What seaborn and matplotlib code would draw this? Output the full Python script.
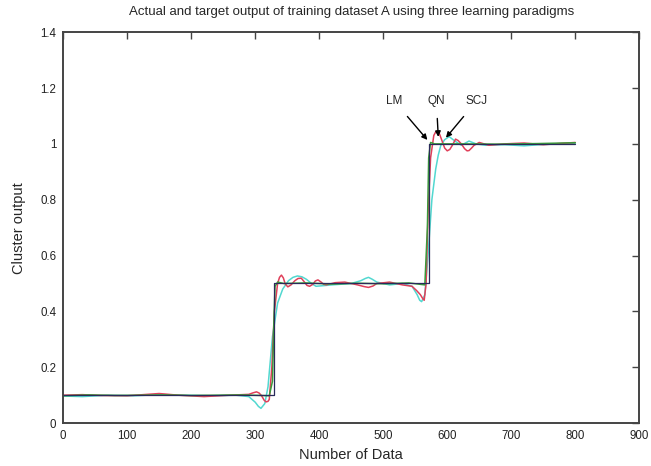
import matplotlib
matplotlib.use("Agg")
import matplotlib.pyplot as plt
import seaborn as sns
import pandas as pd

# ---- data ----
target_x = [0, 330, 330, 572, 572, 800]
target_y = [0.1, 0.1, 0.5, 0.5, 1.0, 1.0]

lm_x = [0, 40, 80, 120, 160, 200, 240, 280, 310, 322, 327, 329, 331, 335, 345, 380, 420, 460, 500,
        540, 565, 569, 571, 574, 580, 620, 680, 740, 800]
lm_y = [0.098, 0.101, 0.099, 0.100, 0.101, 0.099, 0.100, 0.101, 0.099, 0.098, 0.15, 0.35, 0.49, 0.505,
        0.50, 0.502, 0.498, 0.501, 0.499, 0.502, 0.495, 0.70, 0.95, 1.005, 1.0, 1.0, 0.999, 1.001, 1.004]

qn_x = [0, 30, 60, 100, 150, 180, 220, 260, 290, 296, 302, 306, 310, 314, 317, 320, 322, 326, 330, 335,
        338, 341, 344, 347, 351, 356, 362, 367, 372, 377, 381, 385, 390, 394, 398, 403, 407, 411, 418,
        425, 440, 460, 470, 477, 484, 490, 510, 530, 545, 552, 558, 562, 564, 567, 570, 574, 579, 582,
        585, 588, 592, 596, 600, 604, 608, 613, 617, 622, 627, 631, 634, 638, 642, 650, 665, 690, 720,
        750, 780, 800]
qn_y = [0.100, 0.102, 0.099, 0.098, 0.106, 0.100, 0.095, 0.100, 0.103, 0.108, 0.112, 0.108, 0.098,
        0.082, 0.076, 0.078, 0.085, 0.20, 0.40, 0.50, 0.522, 0.53, 0.52, 0.498, 0.488, 0.495, 0.510,
        0.518, 0.519, 0.505, 0.493, 0.49, 0.497, 0.509, 0.513, 0.505, 0.497, 0.495, 0.499, 0.503, 0.505,
        0.495, 0.489, 0.486, 0.491, 0.50, 0.505, 0.495, 0.49, 0.475, 0.46, 0.445, 0.44, 0.50, 0.75,
        0.95, 1.03, 1.043, 1.047, 1.035, 1.01, 0.985, 0.975, 0.98, 0.995, 1.017, 1.012, 1.0, 0.983,
        0.975, 0.976, 0.985, 0.995, 1.005, 0.995, 1.0, 1.003, 0.997, 1.002, 1.005]

scj_x = [0, 30, 70, 110, 150, 190, 230, 270, 290, 300, 305, 309, 315, 320, 327, 335, 343, 352, 359, 366,
         373, 380, 388, 395, 420, 450, 465, 472, 477, 483, 490, 510, 530, 545, 553, 557, 560, 565, 570,
         576, 582, 586, 590, 596, 603, 612, 622, 634, 645, 660, 690, 720, 750, 780, 800]
scj_y = [0.097, 0.095, 0.100, 0.098, 0.102, 0.100, 0.098, 0.100, 0.095, 0.075, 0.06, 0.053, 0.07, 0.13,
         0.31, 0.43, 0.48, 0.51, 0.522, 0.527, 0.524, 0.515, 0.50, 0.49, 0.495, 0.50, 0.51, 0.518, 0.522,
         0.515, 0.505, 0.495, 0.50, 0.49, 0.46, 0.44, 0.435, 0.46, 0.60, 0.80, 0.91, 0.96, 0.995, 1.015,
         1.026, 1.01, 0.995, 1.01, 1.0, 0.995, 0.997, 0.993, 0.998, 1.0, 1.002]

x_ticks = [0, 100, 200, 300, 400, 500, 600, 700, 800, 900]
y_ticks = [0, 0.2, 0.4, 0.6, 0.8, 1.0, 1.2, 1.4]
y_tick_labels = ["0", "0.2", "0.4", "0.6", "0.8", "1", "1.2", "1.4"]

# ---- plot ----
sns.set_style("white")
plt.rcParams['font.family'] = ['Liberation Sans', 'DejaVu Sans']

fig = plt.figure(figsize=(6.51, 4.66), dpi=100)
ax = fig.add_axes([0.097, 0.092, 0.885, 0.839])

series = [
    (scj_x, scj_y, "#52d8d0", 1.1),
    (qn_x, qn_y, "#e0405a", 1.1),
    (lm_x, lm_y, "#3a9a3a", 1.1),
    (target_x, target_y, "#2a2a5a", 0.9),
]
for xs, ys, col, lw in series:
    df = pd.DataFrame({"x": xs, "y": ys})
    sns.lineplot(data=df, x="x", y="y", ax=ax, color=col, linewidth=lw,
                 estimator=None, sort=False)

ax.set_xlim(0, 900)
ax.set_ylim(0, 1.4)
ax.set_xticks(x_ticks)
ax.set_xticklabels([str(t) for t in x_ticks])
ax.set_yticks(y_ticks)
ax.set_yticklabels(y_tick_labels)
ax.tick_params(direction="in", length=5, width=1, color="#444444", top=True, right=True,
               labelsize=8.3, labelcolor="#222222", pad=5)
for s in ax.spines.values():
    s.set_color("#444444")
    s.set_linewidth(1.4)

ax.set_xlabel("Number of Data", fontsize=10.5, labelpad=4)
ax.set_ylabel("Cluster output", fontsize=10.5, labelpad=10)
ax.set_title("Actual and target output of training dataset A using three learning paradigms",
             fontsize=9.5, pad=12)

arrow = dict(arrowstyle="-|>", color="black", lw=1, mutation_scale=8)
ax.annotate("LM", xy=(569, 1.014), xytext=(517, 1.154), ha="center", va="center", fontsize=8.5,
            arrowprops=dict(arrow, shrinkA=6, shrinkB=0))
ax.annotate("QN", xy=(586, 1.025), xytext=(583, 1.154), ha="center", va="center", fontsize=8.5,
            arrowprops=dict(arrow, shrinkA=6, shrinkB=0))
ax.annotate("SCJ", xy=(598, 1.022), xytext=(646, 1.154), ha="center", va="center", fontsize=8.5,
            arrowprops=dict(arrow, shrinkA=6, shrinkB=0))

fig.savefig("out.png", dpi=100)
